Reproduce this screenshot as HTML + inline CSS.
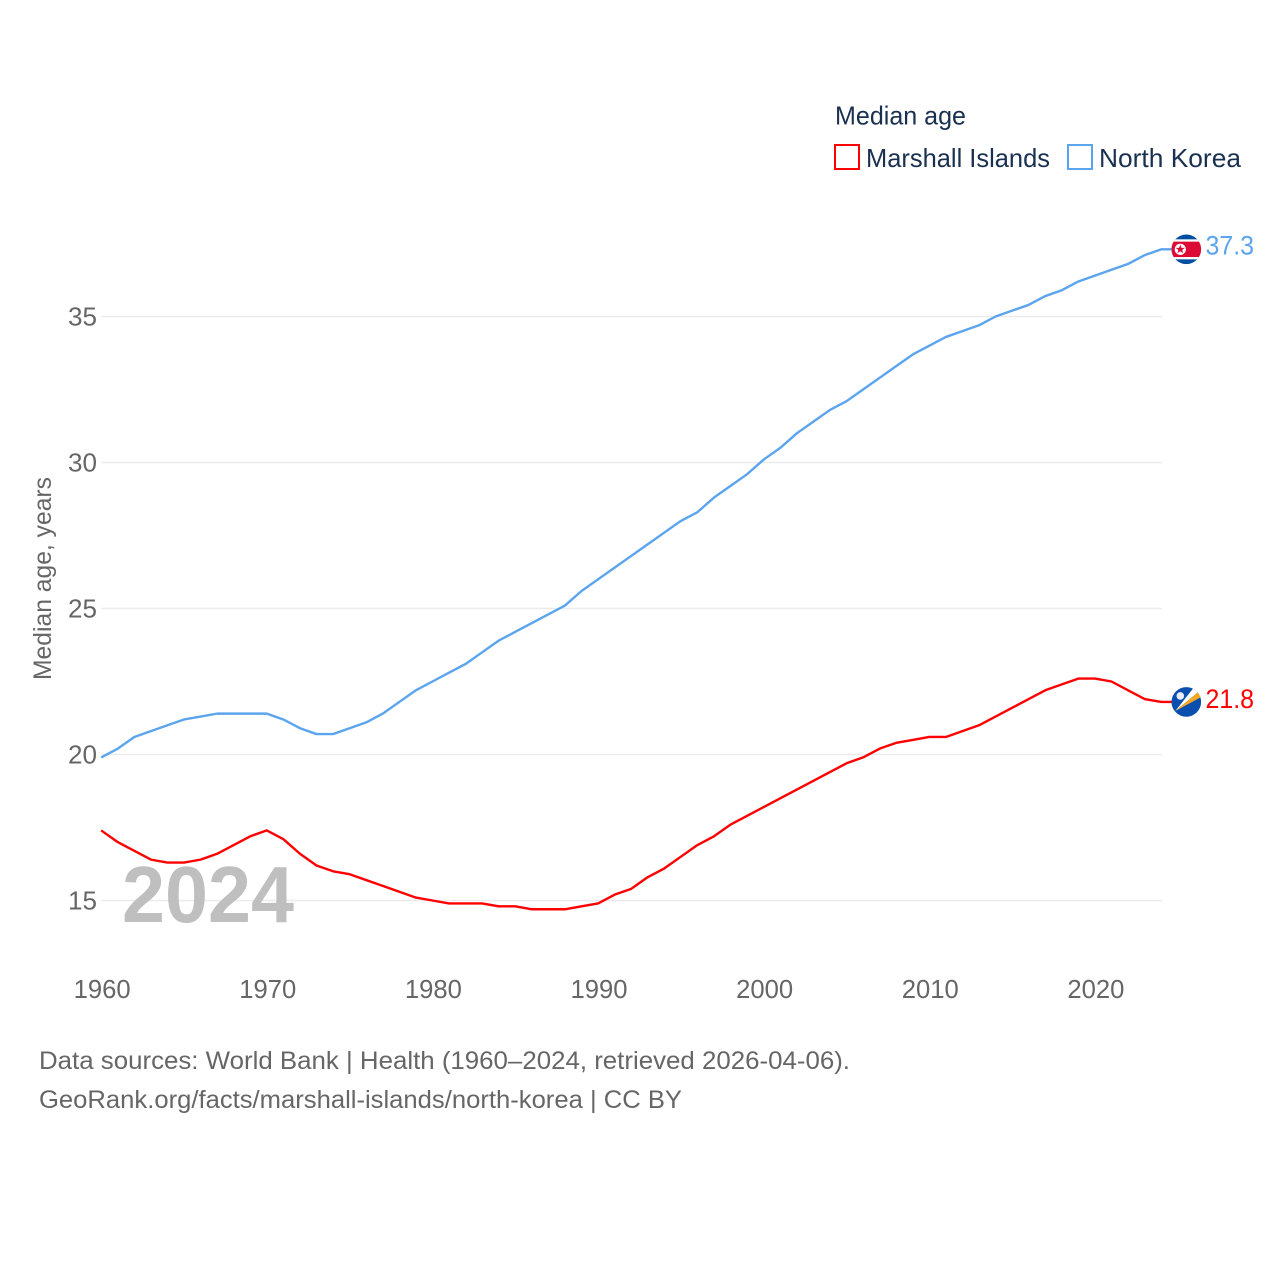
<!DOCTYPE html>
<html lang="en">
<head>
<meta charset="utf-8">
<title>Median age: Marshall Islands and North Korea</title>
<style>
html,body{margin:0;padding:0;background:#fff}
svg{display:block;font-family:"Liberation Sans",sans-serif}
</style>
</head>
<body>
<svg id="chart" xmlns="http://www.w3.org/2000/svg" width="1280" height="1280" viewBox="0 0 1280 1280">
  <rect width="1280" height="1280" fill="#fff"/>
  <g id="grid"></g>
  <text x="122" y="922" font-size="80" font-weight="bold" fill="#bfbfbf" textLength="172" lengthAdjust="spacingAndGlyphs">2024</text>
  <g id="yticks"></g>
  <g id="xticks"></g>
  <text transform="translate(51 680) rotate(-90)" font-size="25" fill="#666" textLength="203" lengthAdjust="spacingAndGlyphs">Median age, years</text>
  <g id="series"></g>

  <g>
    <text x="835" y="124.5" font-size="26" fill="#1a3050" textLength="131" lengthAdjust="spacingAndGlyphs">Median age</text>
    <g>
      <rect x="835" y="145" width="24" height="24" fill="none" stroke="#ff0000" stroke-width="2"/>
      <text x="866" y="167" font-size="26" fill="#1a3050" textLength="184" lengthAdjust="spacingAndGlyphs">Marshall Islands</text>
    </g>
    <g>
      <rect x="1068" y="145" width="24" height="24" fill="none" stroke="#5ba4ee" stroke-width="2"/>
      <text x="1099" y="167" font-size="26" fill="#1a3050" textLength="142" lengthAdjust="spacingAndGlyphs">North Korea</text>
    </g>
  </g>

  <defs>
    <clipPath id="flagClipKp"><circle cx="0" cy="0" r="14.8"/></clipPath>
    <clipPath id="flagClipMh"><circle cx="0" cy="0" r="14.8"/></clipPath>
  </defs>
  <g id="flagKp">
    <g clip-path="url(#flagClipKp)">
      <rect x="-15" y="-15" width="30" height="30" fill="#024fa2"/>
      <rect x="-15" y="-10" width="30" height="20" fill="#fff"/>
      <rect x="-15" y="-7.7" width="30" height="15.4" fill="#dc0a35"/>
      <circle cx="-6" cy="0" r="5.6" fill="#fff"/>
      <polygon points="-6,-4.8 -4.8,-1.5 -1.4,-1.5 -4.1,0.6 -3.1,3.9 -6,1.9 -8.9,3.9 -7.9,0.6 -10.6,-1.5 -7.2,-1.5" fill="#dc0a35"/>
    </g>
  </g>
  <g id="flagMh">
    <g clip-path="url(#flagClipMh)">
      <rect x="-15" y="-15" width="30" height="30" fill="#0a4fae"/>
      <polygon points="-11,9 13,-11 15,-5" fill="#f5a623"/>
      <polygon points="-11,9 8,-15 13,-11" fill="#fff"/>
      <circle cx="-6" cy="-6" r="3.8" fill="#e6eef8"/>
    </g>
  </g>
  <text id="labelKp" x="1205.5" font-size="26.5" fill="#5ba4ee" textLength="48.5" lengthAdjust="spacingAndGlyphs"></text>
  <text id="labelMh" x="1205.5" font-size="26.5" fill="#ff0000" textLength="48.5" lengthAdjust="spacingAndGlyphs"></text>

  <text x="39" y="1069" font-size="25" fill="#666" textLength="811" lengthAdjust="spacingAndGlyphs">Data sources: World Bank | Health (1960–2024, retrieved 2026-04-06).</text>
  <text x="39" y="1108" font-size="25" fill="#666" textLength="643" lengthAdjust="spacingAndGlyphs">GeoRank.org/facts/marshall-islands/north-korea | CC BY</text>
</svg>
<script>
const startYear = 1960;
const northKorea = [19.9,20.2,20.6,20.8,21.0,21.2,21.3,21.4,21.4,21.4,21.4,21.2,20.9,20.7,20.7,20.9,21.1,21.4,21.8,22.2,22.5,22.8,23.1,23.5,23.9,24.2,24.5,24.8,25.1,25.6,26.0,26.4,26.8,27.2,27.6,28.0,28.3,28.8,29.2,29.6,30.1,30.5,31.0,31.4,31.8,32.1,32.5,32.9,33.3,33.7,34.0,34.3,34.5,34.7,35.0,35.2,35.4,35.7,35.9,36.2,36.4,36.6,36.8,37.1,37.3];
const marshallIslands = [17.4,17.0,16.7,16.4,16.3,16.3,16.4,16.6,16.9,17.2,17.4,17.1,16.6,16.2,16.0,15.9,15.7,15.5,15.3,15.1,15.0,14.9,14.9,14.9,14.8,14.8,14.7,14.7,14.7,14.8,14.9,15.2,15.4,15.8,16.1,16.5,16.9,17.2,17.6,17.9,18.2,18.5,18.8,19.1,19.4,19.7,19.9,20.2,20.4,20.5,20.6,20.6,20.8,21.0,21.3,21.6,21.9,22.2,22.4,22.6,22.6,22.5,22.2,21.9,21.8];
const yTicks = [15,20,25,30,35];
const xTicks = [1960,1970,1980,1990,2000,2010,2020];

const NS = 'http://www.w3.org/2000/svg';
function xPos(year){ return 101.2 + (year - 1960) * 16.5625; }
function yPos(v){ return 900.5 - (v - 15) * 29.2; }
function make(tag, attrs, parent){
  const el = document.createElementNS(NS, tag);
  for (const k in attrs) el.setAttribute(k, attrs[k]);
  parent.appendChild(el);
  return el;
}

const grid = document.getElementById('grid');
const yGroup = document.getElementById('yticks');
yTicks.forEach(function(t){
  const line = make('line', {x1:101.5, x2:1162, y1:yPos(t), y2:yPos(t), stroke:'#ebebeb', 'stroke-width':1.5}, grid);
  
  
  const label = make('text', {x:97, y:yPos(t) + 9, 'font-size':25.5, fill:'#666', 'text-anchor':'end', textLength:29, lengthAdjust:'spacingAndGlyphs'}, yGroup);
  
  
  label.textContent = t;
});

const xGroup = document.getElementById('xticks');
xTicks.forEach(function(t){
  const label = make('text', {x:xPos(t) + 1, y:998, 'font-size':25.5, fill:'#666', 'text-anchor':'middle', textLength:57, lengthAdjust:'spacingAndGlyphs'}, xGroup);
  
  
  label.textContent = t;
});

const flagX = 1186.3;
function drawSeries(values, color, name){
  let d = values.map(function(v, i){
    return (i ? 'L' : 'M') + xPos(startYear + i).toFixed(2) + ' ' + yPos(v).toFixed(2);
  }).join(' ');
  const last = values[values.length - 1];
  d += ' L' + flagX + ' ' + yPos(last).toFixed(2);
  const path = make('path', {d:d, fill:'none', stroke:color, 'stroke-width':2.4, 'stroke-linejoin':'round'}, document.getElementById('series'));
  
  
}
drawSeries(northKorea, '#5ba4ee', 'line-north-korea');
drawSeries(marshallIslands, '#ff0000', 'line-marshall-islands');

const kpLast = northKorea[northKorea.length - 1];
const mhLast = marshallIslands[marshallIslands.length - 1];
document.getElementById('flagKp').setAttribute('transform', 'translate(' + flagX + ' ' + yPos(kpLast) + ')');
document.getElementById('flagMh').setAttribute('transform', 'translate(' + flagX + ' ' + yPos(mhLast) + ')');
const labelKp = document.getElementById('labelKp');
labelKp.setAttribute('y', yPos(kpLast) + 5.2);
labelKp.textContent = kpLast.toFixed(1);
const labelMh = document.getElementById('labelMh');
labelMh.setAttribute('y', yPos(mhLast) + 6);
labelMh.textContent = mhLast.toFixed(1);
</script>
</body>
</html>
